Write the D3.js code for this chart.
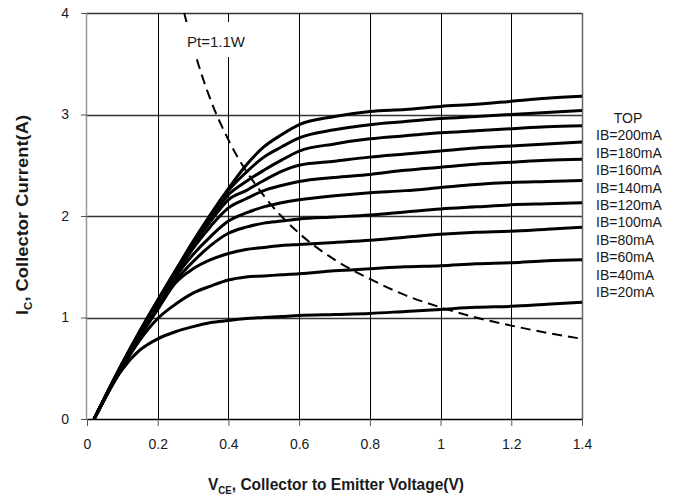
<!DOCTYPE html>
<html>
<head>
<meta charset="utf-8" />
<title>Output characteristics</title>
<script src="https://d3js.org/d3.v7.min.js"></script>
<style>
  body { margin: 0; background: #fff; }
  text { font-family: "Liberation Sans", Arial, sans-serif; fill: #1a1a1a; }
</style>
</head>
<body>
<svg id="chart" width="678" height="500"></svg>
<script>
// collector-emitter voltage points (V) shared by every IB curve
var vce = [0.02, 0.1, 0.15, 0.2, 0.25, 0.3, 0.35, 0.4, 0.45, 0.5, 0.55, 0.6, 0.7, 0.8, 0.9, 1.0, 1.1, 1.2, 1.3, 1.4];

// collector current (A), one array per base current
var ib200 = [0, 0.55, 0.87, 1.17, 1.46, 1.75, 2.02, 2.27, 2.50, 2.68, 2.80, 2.90, 2.98, 3.03, 3.05, 3.08, 3.10, 3.13, 3.16, 3.18];
var ib180 = [0, 0.55, 0.87, 1.17, 1.46, 1.74, 2.00, 2.25, 2.43, 2.58, 2.68, 2.77, 2.85, 2.90, 2.93, 2.96, 2.98, 3.00, 3.02, 3.04];
var ib160 = [0, 0.55, 0.86, 1.16, 1.45, 1.73, 1.98, 2.21, 2.34, 2.45, 2.55, 2.64, 2.71, 2.76, 2.79, 2.82, 2.84, 2.86, 2.88, 2.89];
var ib140 = [0, 0.54, 0.86, 1.15, 1.44, 1.71, 1.95, 2.16, 2.25, 2.35, 2.44, 2.50, 2.54, 2.58, 2.61, 2.64, 2.67, 2.69, 2.71, 2.73];
var ib120 = [0, 0.54, 0.85, 1.14, 1.42, 1.68, 1.90, 2.08, 2.17, 2.25, 2.30, 2.34, 2.38, 2.41, 2.45, 2.48, 2.51, 2.53, 2.55, 2.56];
var ib100 = [0, 0.53, 0.84, 1.13, 1.40, 1.62, 1.80, 1.95, 2.03, 2.09, 2.13, 2.16, 2.20, 2.23, 2.25, 2.28, 2.31, 2.33, 2.34, 2.35];
var ib80  = [0, 0.53, 0.83, 1.10, 1.36, 1.55, 1.71, 1.83, 1.89, 1.93, 1.95, 1.97, 1.99, 2.01, 2.04, 2.07, 2.09, 2.11, 2.12, 2.13];
var ib60  = [0, 0.52, 0.81, 1.08, 1.34, 1.48, 1.57, 1.63, 1.67, 1.69, 1.71, 1.72, 1.74, 1.76, 1.79, 1.82, 1.84, 1.85, 1.87, 1.89];
var ib40  = [0, 0.51, 0.78, 0.99, 1.13, 1.24, 1.31, 1.37, 1.40, 1.41, 1.42, 1.43, 1.46, 1.48, 1.50, 1.51, 1.53, 1.54, 1.56, 1.57];
var ib20  = [0, 0.49, 0.68, 0.79, 0.86, 0.91, 0.95, 0.97, 0.99, 1.00, 1.01, 1.02, 1.03, 1.04, 1.06, 1.08, 1.10, 1.11, 1.13, 1.15];

// power limit curve Pt = 1.1W
var ptV = [0.275, 0.3, 0.35, 0.4, 0.5, 0.6, 0.7, 0.8, 0.9, 1.0, 1.1, 1.2, 1.3, 1.4];
var ptI = [4.0, 3.67, 3.14, 2.75, 2.2, 1.83, 1.57, 1.38, 1.22, 1.1, 1.0, 0.92, 0.85, 0.79];

var legendLabels = ["TOP", "IB=200mA", "IB=180mA", "IB=160mA", "IB=140mA", "IB=120mA",
                    "IB=100mA", "IB=80mA", "IB=60mA", "IB=40mA", "IB=20mA"];
var xTicks = [0, 0.2, 0.4, 0.6, 0.8, 1, 1.2, 1.4];
var yTicks = [0, 1, 2, 3, 4];

var curves = [ib200, ib180, ib160, ib140, ib120, ib100, ib80, ib60, ib40, ib20];

var marginLeft = 87, marginTop = 13, width = 495, height = 406;
var svg = d3.select("#chart");
var g = svg.append("g").attr("transform", "translate(" + marginLeft + "," + marginTop + ")");

var x = d3.scaleLinear().domain([0, 1.4]).range([0, width]);
var y = d3.scaleLinear().domain([0, 4]).range([height, 0]);
var plain = d3.format("");

// grid
g.selectAll(".hgrid").data(yTicks.slice(1))
  .enter().append("line")
  .attr("x1", 0).attr("x2", width)
  .attr("y1", function(d){ return Math.round(y(d)) + 0.5; }).attr("y2", function(d){ return Math.round(y(d)) + 0.5; })
  .attr("stroke", "#333").attr("stroke-width", 1.5);
g.selectAll(".vgrid").data(xTicks.slice(1, -1))
  .enter().append("line")
  .attr("x1", function(d){ return Math.round(x(d)) + 0.5; }).attr("x2", function(d){ return Math.round(x(d)) + 0.5; })
  .attr("y1", 0).attr("y2", height)
  .attr("stroke", "#000").attr("stroke-width", 1)
  .attr("shape-rendering", "crispEdges");
// plot edges
g.append("line").attr("x1", -0.5).attr("x2", -0.5).attr("y1", 0).attr("y2", height)
  .attr("stroke", "#999").attr("stroke-width", 1.5);
g.append("line").attr("x1", width + 0.5).attr("x2", width + 0.5).attr("y1", 0).attr("y2", height)
  .attr("stroke", "#666").attr("stroke-width", 1.5);

// axes
var xAxis = g.append("g").attr("transform", "translate(0," + height + ")")
  .call(d3.axisBottom(x).tickValues(xTicks).tickSize(7).tickSizeOuter(0).tickPadding(13).tickFormat(plain));
xAxis.select(".domain").attr("stroke", "#000").attr("stroke-width", 1.5);
xAxis.selectAll(".tick line").attr("stroke", "#555");
xAxis.selectAll("text").style("font-size", "14px").attr("fill", "#1a1a1a");

var yAxis = g.append("g")
  .call(d3.axisLeft(y).tickValues(yTicks).tickSize(6).tickSizeOuter(0).tickPadding(12).tickFormat(plain));
yAxis.select(".domain").remove();
yAxis.selectAll(".tick line").attr("stroke", "#555");
yAxis.selectAll("text").style("font-size", "14px").attr("fill", "#1a1a1a");

// IB curves
var line = d3.line()
  .x(function(d){ return x(d[0]); })
  .y(function(d){ return y(d[1]); })
  .curve(d3.curveMonotoneX);

g.selectAll(".ib").data(curves)
  .enter().append("path")
  .attr("class", "ib")
  .attr("d", function(vals){ return line(vce.map(function(v, i){ return [v, vals[i]]; })); })
  .attr("fill", "none").attr("stroke", "#000").attr("stroke-width", 3)
  .attr("stroke-linejoin", "round");

// power dissipation curve
g.append("path")
  .attr("d", line(ptV.map(function(v, i){ return [v, ptI[i]]; })))
  .attr("fill", "none").attr("stroke", "#000").attr("stroke-width", 2)
  .attr("stroke-dasharray", "10,6");

// Pt label, with white box hiding lines behind it
g.append("rect").attr("x", 94).attr("y", 9).attr("width", 70).attr("height", 35).attr("fill", "#fff");
g.append("text").attr("x", 100).attr("y", 34).style("font-size", "15px").text("Pt=1.1W");

// legend
svg.selectAll(".leg").data(legendLabels)
  .enter().append("text")
  .attr("x", function(d, i){ return i === 0 ? 628 : 596; })
  .attr("y", function(d, i){ return 123 + i * 17.4; })
  .attr("text-anchor", function(d, i){ return i === 0 ? "middle" : "start"; })
  .style("font-size", "14px")
  .text(function(d){ return d; });

// axis titles
var xt = svg.append("text")
  .attr("x", 336).attr("y", 490).attr("text-anchor", "middle")
  .attr("textLength", 256).attr("lengthAdjust", "spacingAndGlyphs")
  .style("font-size", "16px").style("font-weight", "bold");
xt.append("tspan").text("V");
xt.append("tspan").attr("dy", 4).style("font-size", "10px").text("CE");
xt.append("tspan").attr("dy", -4).text(", Collector to Emitter Voltage(V)");

var yt = svg.append("text")
  .attr("transform", "translate(28,215) rotate(-90)").attr("text-anchor", "middle")
  .attr("textLength", 200).attr("lengthAdjust", "spacingAndGlyphs")
  .style("font-size", "16px").style("font-weight", "bold");
yt.append("tspan").text("I");
yt.append("tspan").attr("dy", 4).style("font-size", "10px").text("C");
yt.append("tspan").attr("dy", -4).text(", Collector Current(A)");
</script>
</body>
</html>
